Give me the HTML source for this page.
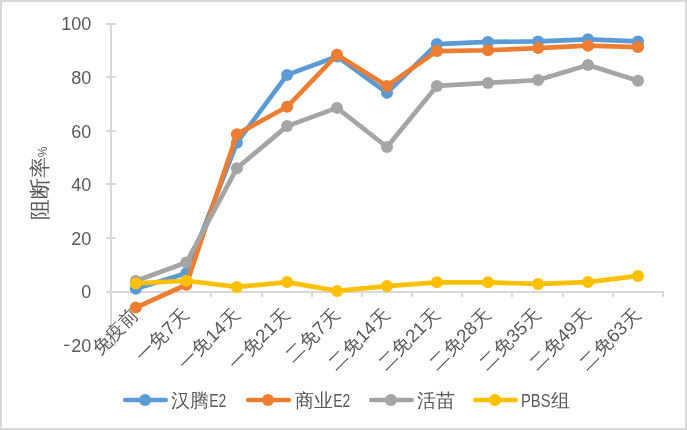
<!DOCTYPE html>
<html><head><meta charset="utf-8"><style>
html,body{margin:0;padding:0;background:#fff;}
body{width:687px;height:430px;overflow:hidden;position:relative;}
.frame{position:absolute;left:0;top:0;width:683px;height:426px;border:2px solid #D9D9D9;background:#fff;}
svg{position:absolute;left:0;top:0;will-change:transform;}
.ax{font-family:"Liberation Sans",sans-serif;font-size:18px;fill:#595959;}
.tt{font-family:"Liberation Sans",sans-serif;font-size:21px;fill:#595959;}
</style></head><body><div class="frame"></div>
<svg width="687" height="430" viewBox="0 0 687 430">
<line x1="111.0" y1="23.0" x2="111.0" y2="346.6" stroke="#D9D9D9" stroke-width="2"/>
<line x1="106" y1="345" x2="116" y2="345" stroke="#D9D9D9" stroke-width="2"/>
<text x="91.3" y="352.00" text-anchor="end" class="ax">20</text>
<line x1="64" y1="345.30" x2="69.6" y2="345.30" stroke="#595959" stroke-width="1.3"/>
<line x1="106" y1="292" x2="116" y2="292" stroke="#D9D9D9" stroke-width="2"/>
<text x="91.3" y="298.40" text-anchor="end" class="ax">0</text>
<line x1="106" y1="238" x2="116" y2="238" stroke="#D9D9D9" stroke-width="2"/>
<text x="91.3" y="244.80" text-anchor="end" class="ax">20</text>
<line x1="106" y1="184" x2="116" y2="184" stroke="#D9D9D9" stroke-width="2"/>
<text x="91.3" y="191.20" text-anchor="end" class="ax">40</text>
<line x1="106" y1="131" x2="116" y2="131" stroke="#D9D9D9" stroke-width="2"/>
<text x="91.3" y="137.60" text-anchor="end" class="ax">60</text>
<line x1="106" y1="77" x2="116" y2="77" stroke="#D9D9D9" stroke-width="2"/>
<text x="91.3" y="84.00" text-anchor="end" class="ax">80</text>
<line x1="106" y1="24" x2="116" y2="24" stroke="#D9D9D9" stroke-width="2"/>
<text x="91.3" y="30.40" text-anchor="end" class="ax">100</text>
<line x1="111.0" y1="292.0" x2="664.0" y2="292.0" stroke="#D9D9D9" stroke-width="2"/>
<line x1="161" y1="292.0" x2="161" y2="297" stroke="#D9D9D9" stroke-width="2"/>
<line x1="211" y1="292.0" x2="211" y2="297" stroke="#D9D9D9" stroke-width="2"/>
<line x1="262" y1="292.0" x2="262" y2="297" stroke="#D9D9D9" stroke-width="2"/>
<line x1="312" y1="292.0" x2="312" y2="297" stroke="#D9D9D9" stroke-width="2"/>
<line x1="362" y1="292.0" x2="362" y2="297" stroke="#D9D9D9" stroke-width="2"/>
<line x1="412" y1="292.0" x2="412" y2="297" stroke="#D9D9D9" stroke-width="2"/>
<line x1="462" y1="292.0" x2="462" y2="297" stroke="#D9D9D9" stroke-width="2"/>
<line x1="512" y1="292.0" x2="512" y2="297" stroke="#D9D9D9" stroke-width="2"/>
<line x1="563" y1="292.0" x2="563" y2="297" stroke="#D9D9D9" stroke-width="2"/>
<line x1="613" y1="292.0" x2="613" y2="297" stroke="#D9D9D9" stroke-width="2"/>
<line x1="663" y1="292.0" x2="663" y2="297" stroke="#D9D9D9" stroke-width="2"/>
<text transform="translate(135.60,311.50) rotate(-45)" text-anchor="end" class="ax" style="font-size:18.6px" dy="6">免疫前</text>
<text transform="translate(186.10,311.50) rotate(-45)" text-anchor="end" class="ax" style="font-size:18.6px" dy="6">一免7天</text>
<text transform="translate(236.70,311.50) rotate(-45)" text-anchor="end" class="ax" style="font-size:18.6px" dy="6">一免14天</text>
<text transform="translate(286.90,311.50) rotate(-45)" text-anchor="end" class="ax" style="font-size:18.6px" dy="6">一免21天</text>
<text transform="translate(336.80,311.50) rotate(-45)" text-anchor="end" class="ax" style="font-size:18.6px" dy="6">二免7天</text>
<text transform="translate(386.80,311.50) rotate(-45)" text-anchor="end" class="ax" style="font-size:18.6px" dy="6">二免14天</text>
<text transform="translate(436.70,311.50) rotate(-45)" text-anchor="end" class="ax" style="font-size:18.6px" dy="6">二免21天</text>
<text transform="translate(487.80,311.50) rotate(-45)" text-anchor="end" class="ax" style="font-size:18.6px" dy="6">二免28天</text>
<text transform="translate(537.90,311.50) rotate(-45)" text-anchor="end" class="ax" style="font-size:18.6px" dy="6">二免35天</text>
<text transform="translate(587.80,311.50) rotate(-45)" text-anchor="end" class="ax" style="font-size:18.6px" dy="6">二免49天</text>
<text transform="translate(637.80,311.50) rotate(-45)" text-anchor="end" class="ax" style="font-size:18.6px" dy="6">二免63天</text>
<polyline points="135.80,288.78 186.30,273.24 236.90,142.72 287.10,74.92 337.00,56.43 387.00,92.88 436.90,44.10 488.00,41.96 538.10,41.42 588.00,39.28 638.00,41.42" fill="none" stroke="#5B9BD5" stroke-width="4.7" stroke-linejoin="round" stroke-linecap="round"/>
<circle cx="135.80" cy="288.78" r="6" fill="#5B9BD5"/>
<circle cx="186.30" cy="273.24" r="6" fill="#5B9BD5"/>
<circle cx="236.90" cy="142.72" r="6" fill="#5B9BD5"/>
<circle cx="287.10" cy="74.92" r="6" fill="#5B9BD5"/>
<circle cx="337.00" cy="56.43" r="6" fill="#5B9BD5"/>
<circle cx="387.00" cy="92.88" r="6" fill="#5B9BD5"/>
<circle cx="436.90" cy="44.10" r="6" fill="#5B9BD5"/>
<circle cx="488.00" cy="41.96" r="6" fill="#5B9BD5"/>
<circle cx="538.10" cy="41.42" r="6" fill="#5B9BD5"/>
<circle cx="588.00" cy="39.28" r="6" fill="#5B9BD5"/>
<circle cx="638.00" cy="41.42" r="6" fill="#5B9BD5"/>
<polyline points="135.80,307.54 186.30,284.76 236.90,134.15 287.10,106.81 337.00,54.82 387.00,85.91 436.90,51.07 488.00,50.26 538.10,48.12 588.00,45.71 638.00,47.05" fill="none" stroke="#ED7D31" stroke-width="4.7" stroke-linejoin="round" stroke-linecap="round"/>
<circle cx="135.80" cy="307.54" r="6" fill="#ED7D31"/>
<circle cx="186.30" cy="284.76" r="6" fill="#ED7D31"/>
<circle cx="236.90" cy="134.15" r="6" fill="#ED7D31"/>
<circle cx="287.10" cy="106.81" r="6" fill="#ED7D31"/>
<circle cx="337.00" cy="54.82" r="6" fill="#ED7D31"/>
<circle cx="387.00" cy="85.91" r="6" fill="#ED7D31"/>
<circle cx="436.90" cy="51.07" r="6" fill="#ED7D31"/>
<circle cx="488.00" cy="50.26" r="6" fill="#ED7D31"/>
<circle cx="538.10" cy="48.12" r="6" fill="#ED7D31"/>
<circle cx="588.00" cy="45.71" r="6" fill="#ED7D31"/>
<circle cx="638.00" cy="47.05" r="6" fill="#ED7D31"/>
<polyline points="135.80,281.01 186.30,262.52 236.90,168.18 287.10,126.11 337.00,107.88 387.00,147.01 436.90,85.91 488.00,82.96 538.10,80.01 588.00,65.00 638.00,80.82" fill="none" stroke="#A5A5A5" stroke-width="4.7" stroke-linejoin="round" stroke-linecap="round"/>
<circle cx="135.80" cy="281.01" r="6" fill="#A5A5A5"/>
<circle cx="186.30" cy="262.52" r="6" fill="#A5A5A5"/>
<circle cx="236.90" cy="168.18" r="6" fill="#A5A5A5"/>
<circle cx="287.10" cy="126.11" r="6" fill="#A5A5A5"/>
<circle cx="337.00" cy="107.88" r="6" fill="#A5A5A5"/>
<circle cx="387.00" cy="147.01" r="6" fill="#A5A5A5"/>
<circle cx="436.90" cy="85.91" r="6" fill="#A5A5A5"/>
<circle cx="488.00" cy="82.96" r="6" fill="#A5A5A5"/>
<circle cx="538.10" cy="80.01" r="6" fill="#A5A5A5"/>
<circle cx="588.00" cy="65.00" r="6" fill="#A5A5A5"/>
<circle cx="638.00" cy="80.82" r="6" fill="#A5A5A5"/>
<polyline points="135.80,283.42 186.30,280.74 236.90,286.91 287.10,282.08 337.00,290.93 387.00,286.10 436.90,282.35 488.00,282.35 538.10,283.96 588.00,282.08 638.00,275.92" fill="none" stroke="#FFC000" stroke-width="4.7" stroke-linejoin="round" stroke-linecap="round"/>
<circle cx="135.80" cy="283.42" r="6" fill="#FFC000"/>
<circle cx="186.30" cy="280.74" r="6" fill="#FFC000"/>
<circle cx="236.90" cy="286.91" r="6" fill="#FFC000"/>
<circle cx="287.10" cy="282.08" r="6" fill="#FFC000"/>
<circle cx="337.00" cy="290.93" r="6" fill="#FFC000"/>
<circle cx="387.00" cy="286.10" r="6" fill="#FFC000"/>
<circle cx="436.90" cy="282.35" r="6" fill="#FFC000"/>
<circle cx="488.00" cy="282.35" r="6" fill="#FFC000"/>
<circle cx="538.10" cy="283.96" r="6" fill="#FFC000"/>
<circle cx="588.00" cy="282.08" r="6" fill="#FFC000"/>
<circle cx="638.00" cy="275.92" r="6" fill="#FFC000"/>
<text transform="translate(46.8,183.5) rotate(-90)" text-anchor="middle" class="tt">阻断率<tspan style="font-size:12px">%</tspan></text>
<line x1="125.25" y1="400" x2="165.75" y2="400" stroke="#5B9BD5" stroke-width="4.7" stroke-linecap="round"/>
<circle cx="145" cy="400" r="6" fill="#5B9BD5"/>
<text x="171" y="407" class="ax" style="font-size:19px">汉腾</text>
<text x="209.3" y="407" class="ax" textLength="17" lengthAdjust="spacingAndGlyphs">E2</text>
<line x1="248.25" y1="400" x2="288.75" y2="400" stroke="#ED7D31" stroke-width="4.7" stroke-linecap="round"/>
<circle cx="268" cy="400" r="6" fill="#ED7D31"/>
<text x="295" y="407" class="ax" style="font-size:19px">商业</text>
<text x="333.3" y="407" class="ax" textLength="17" lengthAdjust="spacingAndGlyphs">E2</text>
<line x1="371.25" y1="400" x2="411.75" y2="400" stroke="#A5A5A5" stroke-width="4.7" stroke-linecap="round"/>
<circle cx="391" cy="400" r="6" fill="#A5A5A5"/>
<text x="417" y="407" class="ax" style="font-size:19px">活苗</text>
<line x1="475.25" y1="400" x2="515.75" y2="400" stroke="#FFC000" stroke-width="4.7" stroke-linecap="round"/>
<circle cx="495" cy="400" r="6" fill="#FFC000"/>
<text x="521" y="407" class="ax" textLength="29.5" lengthAdjust="spacingAndGlyphs">PBS</text>
<text x="551" y="407" class="ax" style="font-size:19px">组</text>
</svg></body></html>
